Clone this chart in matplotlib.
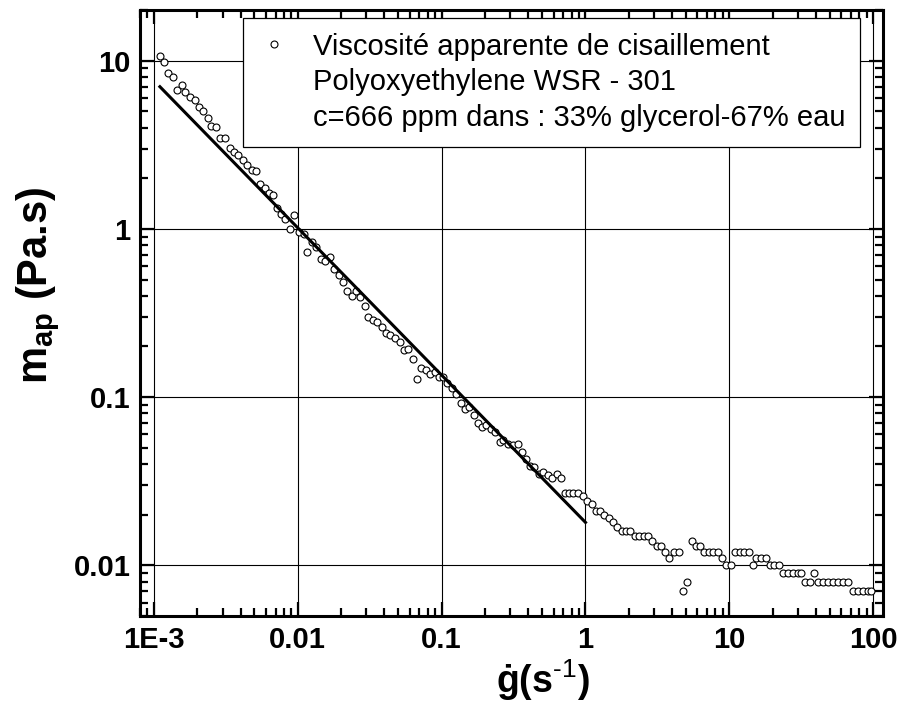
import matplotlib
matplotlib.use('Agg')
import numpy as np
import matplotlib.pyplot as plt
from matplotlib.lines import Line2D
from matplotlib.ticker import FixedLocator, FixedFormatter, LogLocator, NullFormatter

plt.rcParams['font.family'] = ['Liberation Sans', 'DejaVu Sans']
plt.rcParams['mathtext.fontset'] = 'custom'
plt.rcParams['mathtext.rm'] = 'Liberation Sans'
plt.rcParams['mathtext.bf'] = 'Liberation Sans:bold'
plt.rcParams['mathtext.it'] = 'Liberation Sans:italic'

# ---- data ----
shear_rate = [
    0.001108, 0.001168, 0.001252, 0.001365, 0.001446, 0.001559, 0.001654, 0.001780, 0.001929, 0.002047,
    0.002183, 0.002364, 0.002493, 0.002718, 0.002898, 0.003120, 0.003364, 0.003604, 0.003842, 0.004143,
    0.004439, 0.004785, 0.005102, 0.005500, 0.005922, 0.006355, 0.006733, 0.007143, 0.007616, 0.008210,
    0.008841, 0.009485, 0.01021, 0.01096, 0.01168, 0.01252, 0.01341, 0.01439, 0.01549, 0.01670,
    0.01789, 0.01920, 0.02057, 0.02204, 0.02364, 0.02532, 0.02713, 0.02912, 0.03085, 0.03310,
    0.03546, 0.03823, 0.04097, 0.04389, 0.04732, 0.05102, 0.05466, 0.05856, 0.06283, 0.06732,
    0.07178, 0.07739, 0.08330, 0.08940, 0.09530, 0.1016, 0.1094, 0.1174, 0.1258, 0.1356,
    0.1453, 0.1556, 0.1670, 0.1789, 0.1908, 0.2044, 0.2204, 0.2361, 0.2525, 0.2684,
    0.2893, 0.3135, 0.3380, 0.3622, 0.3880, 0.4136, 0.4410, 0.4732, 0.5093, 0.5466,
    0.5856, 0.6314, 0.6765, 0.7248, 0.7727, 0.8240, 0.8840, 0.9577, 1.026, 1.106,
    1.185, 1.270, 1.354, 1.460, 1.556, 1.667, 1.789, 1.917, 2.054, 2.214,
    2.361, 2.545, 2.727, 2.922, 3.135, 3.358, 3.597, 3.836, 4.137, 4.460,
    4.754, 5.118, 5.492, 5.856, 6.274, 6.690, 7.167, 7.691, 8.332, 8.926,
    9.470, 10.26, 11.00, 11.78, 12.70, 13.61, 14.60, 15.39, 16.67, 18.06,
    19.26, 20.54, 22.00, 23.61, 25.57, 27.71, 30.02, 31.65, 33.37, 36.15,
    38.54, 41.37, 44.82, 48.56, 52.60, 56.99, 61.74, 66.90, 72.46, 78.50,
    85.05, 92.15, 97.16]

viscosity = [
    10.66, 9.82, 8.45, 8.03, 6.72, 7.13, 6.51, 6.11, 5.80, 5.27,
    4.99, 4.58, 4.10, 4.05, 3.45, 3.45, 3.01, 2.85, 2.76, 2.57,
    2.40, 2.25, 2.22, 1.86, 1.74, 1.64, 1.58, 1.33, 1.23, 1.15,
    1.00, 1.21, 0.960, 0.930, 0.727, 0.833, 0.785, 0.663, 0.648, 0.684,
    0.576, 0.532, 0.484, 0.428, 0.399, 0.428, 0.394, 0.347, 0.298, 0.287,
    0.280, 0.260, 0.241, 0.234, 0.225, 0.214, 0.190, 0.192, 0.168, 0.129,
    0.148, 0.145, 0.138, 0.141, 0.132, 0.132, 0.122, 0.1136, 0.1038, 0.0921,
    0.0845, 0.0872, 0.0781, 0.0703, 0.0667, 0.0681, 0.0645, 0.0619, 0.0540, 0.0555,
    0.0530, 0.0516, 0.0525, 0.0475, 0.0429, 0.0388, 0.0382, 0.0348, 0.0361, 0.0345,
    0.0330, 0.0351, 0.0330, 0.027, 0.027, 0.027, 0.027, 0.026, 0.024, 0.023,
    0.021, 0.021, 0.020, 0.019, 0.018, 0.017, 0.016, 0.016, 0.016, 0.015,
    0.015, 0.015, 0.015, 0.014, 0.013, 0.013, 0.012, 0.011, 0.012, 0.012,
    0.007, 0.008, 0.014, 0.013, 0.013, 0.012, 0.012, 0.012, 0.012, 0.011,
    0.010, 0.010, 0.012, 0.012, 0.012, 0.012, 0.010, 0.011, 0.011, 0.011,
    0.010, 0.010, 0.010, 0.009, 0.009, 0.009, 0.009, 0.009, 0.008, 0.008,
    0.009, 0.008, 0.008, 0.008, 0.008, 0.008, 0.008, 0.008, 0.007, 0.007,
    0.007, 0.007, 0.007]

fit_rate = [1.1e-3, 1.0]
fit_viscosity = [7.0, 0.018]

x_ticks = [1e-3, 1e-2, 1e-1, 1, 10, 100]
x_tick_labels = ['1E-3', '0.01', '0.1', '1', '10', '100']
y_ticks = [0.01, 0.1, 1, 10]
y_tick_labels = ['0.01', '0.1', '1', '10']

legend_lines = ['Viscosité apparente de cisaillement',
                'Polyoxyethylene WSR - 301',
                'c=666 ppm dans : 33% glycerol-67% eau']

# ---- figure ----
W, H = 903, 704
fig = plt.figure(figsize=(W / 100, H / 100), dpi=100)
ax = fig.add_axes([140 / W, 1 - 616 / H, 743 / W, 606 / H])
ax.set_xscale('log')
ax.set_yscale('log')
ax.set_xlim(8e-4, 117)
ax.set_ylim(5e-3, 20)

ax.plot(shear_rate, viscosity, ls='none', marker='o', ms=5,
        mfc='white', mec='black', mew=0.8, zorder=3)
ax.plot(fit_rate, fit_viscosity, '-', color='black', lw=2.2, zorder=4)

ax.xaxis.set_major_locator(FixedLocator(x_ticks))
ax.xaxis.set_major_formatter(FixedFormatter(x_tick_labels))
ax.yaxis.set_major_locator(FixedLocator(y_ticks))
ax.yaxis.set_major_formatter(FixedFormatter(y_tick_labels))
ax.xaxis.set_minor_locator(LogLocator(base=10, subs=np.arange(2, 10), numticks=20))
ax.yaxis.set_minor_locator(LogLocator(base=10, subs=np.arange(2, 10), numticks=20))
ax.xaxis.set_minor_formatter(NullFormatter())
ax.yaxis.set_minor_formatter(NullFormatter())

ax.grid(True, which='major', color='black', lw=0.8, zorder=1)
ax.set_axisbelow(True)

ax.tick_params(which='both', direction='in', top=True, right=True,
               width=1.6, color='black')
ax.tick_params(which='major', length=10, labelsize=21, pad=7)
ax.tick_params(which='minor', length=5.5)
for lbl in ax.get_xticklabels() + ax.get_yticklabels():
    lbl.set_fontweight('bold')

for sp in ax.spines.values():
    sp.set_linewidth(2.2)
    sp.set_color('black')

ax.set_xlabel('ġ(s$^{\\text{-1}}$)', fontsize=27, fontweight='bold')
ax.xaxis.set_label_coords(0.542, -0.106)
ax.xaxis.label.set_verticalalignment('center')
ax.set_ylabel('$\\mathbf{m_{ap}}$ (Pa.s)', fontsize=30, fontweight='bold')
ax.yaxis.set_label_coords(-0.137, 0.546)
ax.yaxis.label.set_verticalalignment('center')

handles = [Line2D([], [], ls='none', marker='o', ms=5, mfc='white', mec='black', mew=0.8),
           Line2D([], [], ls='none'),
           Line2D([], [], ls='none')]
leg = ax.legend(handles, legend_lines, loc='upper left',
                bbox_to_anchor=(243 / W, 1 - 18 / H), bbox_transform=fig.transFigure,
                borderaxespad=0, fontsize=21, frameon=True, fancybox=False,
                framealpha=1, edgecolor='black', borderpad=0.5,
                handlelength=1.1, handletextpad=0.8, labelspacing=0.27)
leg.get_frame().set_linewidth(0.9)
leg.set_zorder(5)

fig.savefig('out.png', dpi=100)
